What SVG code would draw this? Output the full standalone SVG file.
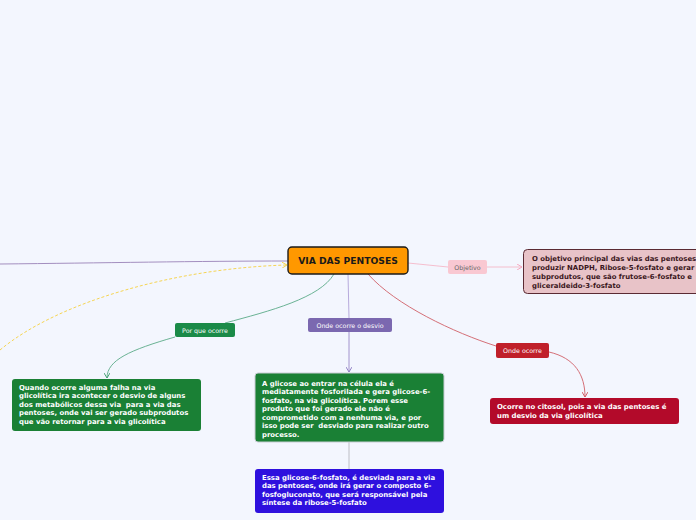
<svg xmlns="http://www.w3.org/2000/svg" width="696" height="520" viewBox="0 0 696 520">
<style>
.bx{font-family:"DejaVu Sans",Verdana,sans-serif;font-weight:bold;font-size:6.9px;fill:#ffffff;white-space:pre}
.lb{font-family:"DejaVu Sans",Verdana,sans-serif;font-size:6.3px;fill:#ffffff}
.cn{fill:none;stroke-width:0.9}
</style>
<defs>
<marker id="aG" markerWidth="6" markerHeight="6" refX="5" refY="3" orient="auto" markerUnits="userSpaceOnUse"><path d="M0,0 L5,3 L0,6" fill="none" stroke="#3a9a6a" stroke-width="0.9"/></marker>
<marker id="aP" markerWidth="6" markerHeight="6" refX="5" refY="3" orient="auto" markerUnits="userSpaceOnUse"><path d="M0,0 L5,3 L0,6" fill="none" stroke="#8a78c0" stroke-width="0.9"/></marker>
<marker id="aR" markerWidth="6" markerHeight="6" refX="5" refY="3" orient="auto" markerUnits="userSpaceOnUse"><path d="M0,0 L5,3 L0,6" fill="none" stroke="#d0505a" stroke-width="0.9"/></marker>
<marker id="aK" markerWidth="6" markerHeight="6" refX="5" refY="3" orient="auto" markerUnits="userSpaceOnUse"><path d="M0,0 L5,3 L0,6" fill="none" stroke="#f5a0b8" stroke-width="0.9"/></marker>
<marker id="aY" markerWidth="6" markerHeight="6" refX="5" refY="3" orient="auto" markerUnits="userSpaceOnUse"><path d="M0,0 L5,3 L0,6" fill="none" stroke="#f5d040" stroke-width="0.9"/></marker>
</defs>
<rect width="696" height="520" fill="#f3f6fe"/>
<g id="connectors">
<path class="cn" d="M0,264 C100,263 200,261 288,261" stroke="#9a82b8"/>
<path class="cn" d="M0,350 C60,300 180,268 287,265" stroke="#f5d040" stroke-dasharray="3,2" marker-end="url(#aY)"/>
<path class="cn" d="M408,263 L448,267" stroke="#f5b8c8"/>
<path class="cn" d="M487,267 L522,267" stroke="#f5b8c8" marker-end="url(#aK)"/>
<path class="cn" d="M334,274 C320,298 270,311 225,323" stroke="#5aaa88"/>
<path class="cn" d="M175,337 C130,350 107,360 107,378" stroke="#5aaa88" marker-end="url(#aG)"/>
<path class="cn" d="M348,274 L349,318" stroke="#b0a2d8"/>
<path class="cn" d="M349,332 L349,372" stroke="#9a88c8" marker-end="url(#aP)"/>
<path class="cn" d="M349,442 L349,469" stroke="#b8b8c0"/>
<path class="cn" d="M368,274 C395,305 455,333 496,346" stroke="#d06068"/>
<path class="cn" d="M549,352 C575,358 585,375 585,397" stroke="#d06068" marker-end="url(#aR)"/>
</g>
<g id="central">
<rect x="288" y="247" width="120" height="27" rx="4" fill="#ff9800" stroke="#1a1a1a" stroke-width="1.4"/>
<text x="348" y="264.3" text-anchor="middle" font-family="DejaVu Sans,Verdana,sans-serif" font-weight="bold" font-size="9.2" fill="#1a1a1a">VIA DAS PENTOSES</text>
</g>
<g id="lbl-objetivo">
<rect x="448" y="260" width="39" height="14" rx="2" fill="#f9c8d2"/>
<text x="467.5" y="269.5" text-anchor="middle" class="lb" style="fill:#666">Objetivo</text>
</g>
<g id="objetivo">
<rect x="523.5" y="249.5" width="180" height="44" rx="4" fill="#e8c3c8" stroke="#5a2a33" stroke-width="1"/>
<text class="bx" style="fill:#3a1620"><tspan x="532" y="261">O objetivo principal das vias das pentoses é</tspan><tspan x="532" y="270">produzir NADPH, Ribose-5-fosfato e gerar</tspan><tspan x="532" y="279">subprodutos, que são frutose-6-fosfato e</tspan><tspan x="532" y="287.5">gliceraldeido-3-fosfato</tspan></text>
</g>
<g id="lbl-porque">
<rect x="175" y="323" width="60" height="14" rx="2" fill="#1a8a48"/>
<text x="205" y="332.5" text-anchor="middle" class="lb">Por que ocorre</text>
</g>
<g id="porque">
<rect x="12" y="379" width="189" height="52" rx="3" fill="#1a8035"/>
<text class="bx"><tspan x="19" y="389.5">Quando ocorre alguma falha na via</tspan><tspan x="19" y="398">glicolítica ira acontecer o desvio de alguns</tspan><tspan x="19" y="406.5">dos metabólicos dessa via  para a via das</tspan><tspan x="19" y="415">pentoses, onde vai ser gerado subprodutos</tspan><tspan x="19" y="424">que vão retornar para a via glicolítica</tspan></text>
</g>
<g id="lbl-desvio">
<rect x="308" y="318" width="84" height="14" rx="2" fill="#7b68b0"/>
<text x="350" y="327.5" text-anchor="middle" class="lb">Onde ocorre o desvio</text>
</g>
<g id="desvio">
<rect x="255" y="373" width="189" height="69" rx="3" fill="#1a8035" stroke="#c8ccd4" stroke-width="1"/>
<text class="bx"><tspan x="262" y="385.5">A glicose ao entrar na célula ela é</tspan><tspan x="262" y="394">mediatamente fosforilada e gera glicose-6-</tspan><tspan x="262" y="402.5">fosfato, na via glicolítica. Porem esse</tspan><tspan x="262" y="411">produto que foi gerado ele não é</tspan><tspan x="262" y="419.5">comprometido com a nenhuma via, e por</tspan><tspan x="262" y="428">isso pode ser  desviado para realizar outro</tspan><tspan x="262" y="436.5">processo.</tspan></text>
</g>
<g id="desvio2">
<rect x="255" y="469" width="189" height="44" rx="3" fill="#2e10de"/>
<text class="bx"><tspan x="262" y="479.5">Essa glicose-6-fosfato, é desviada para a via</tspan><tspan x="262" y="488">das pentoses, onde irá gerar o composto 6-</tspan><tspan x="262" y="496.5">fosfogluconato, que será responsável pela</tspan><tspan x="262" y="505">síntese da ribose-5-fosfato</tspan></text>
</g>
<g id="lbl-onde">
<rect x="496" y="343" width="53" height="15" rx="2" fill="#c0202a"/>
<text x="522.5" y="353" text-anchor="middle" class="lb">Onde ocorre</text>
</g>
<g id="onde">
<rect x="490" y="398" width="189" height="26" rx="3" fill="#b30a2a"/>
<text class="bx"><tspan x="497" y="409">Ocorre no citosol, pois a via das pentoses é</tspan><tspan x="497" y="418">um desvio da via glicolítica</tspan></text>
</g>
</svg>
